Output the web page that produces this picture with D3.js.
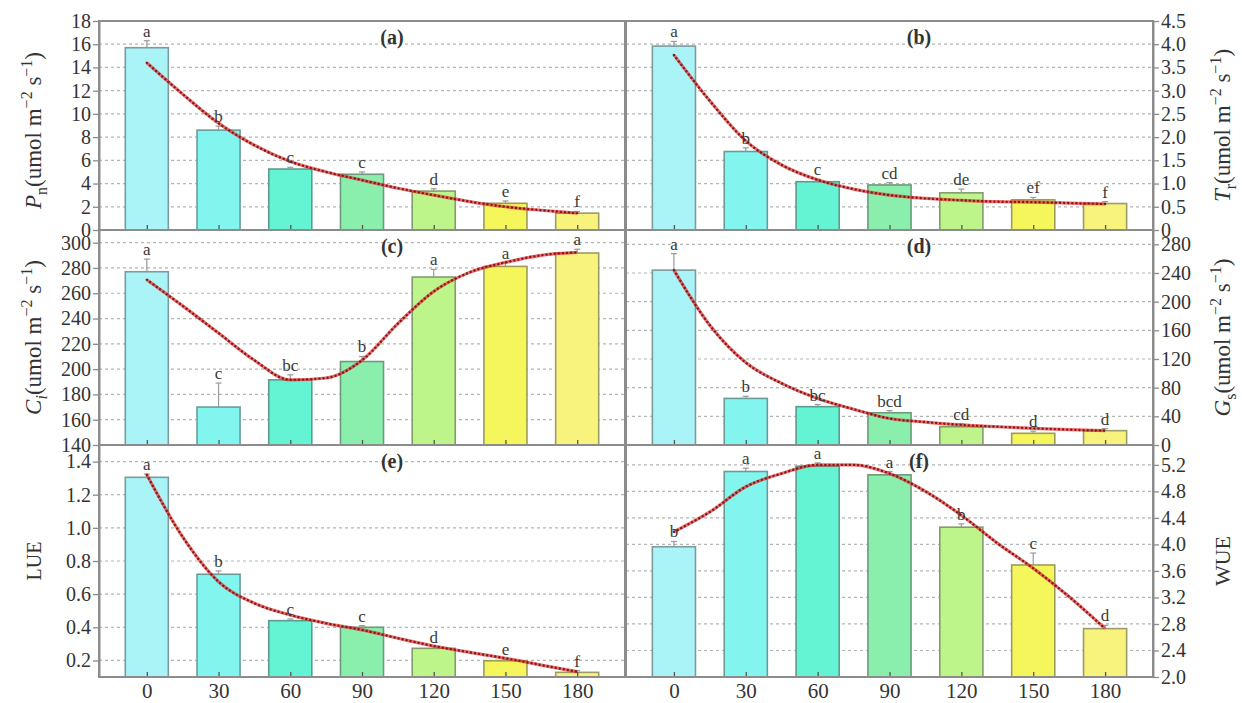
<!DOCTYPE html>
<html><head><meta charset="utf-8">
<script src="https://cdn.jsdelivr.net/npm/d3@7"></script>
<style>
body{margin:0;background:#fff;}
svg{display:block;font-family:"Liberation Serif","Times New Roman",serif;}
</style></head><body>
<svg id="chart" width="1242" height="703"></svg>
<script>
// ---------------- data ----------------
const categories = [0, 30, 60, 90, 120, 150, 180];
const fitX = [0, 15, 30, 45, 60, 75, 90, 105, 120, 135, 150, 165, 180];
const barColors = ["#aaf4f8", "#82f5ee", "#64f4d4", "#8aefad", "#bdf58a", "#f5f55c", "#f7f37c"];

const pnValues  = [15.7, 8.6, 5.25, 4.8, 3.35, 2.3, 1.45];
const pnErrors  = [0.6, 0.35, 0.15, 0.2, 0.2, 0.2, 0.15];
const pnLetters = ["a", "b", "c", "c", "d", "e", "f"];
const pnFit     = [14.4, 11.7, 9.2, 7.3, 5.9, 5.0, 4.3, 3.6, 3.0, 2.45, 2.0, 1.7, 1.45];
const pnTicks   = [0, 2, 4, 6, 8, 10, 12, 14, 16, 18];

const trValues  = [3.96, 1.69, 1.04, 0.97, 0.80, 0.65, 0.57];
const trErrors  = [0.1, 0.08, 0.05, 0.05, 0.08, 0.05, 0.04];
const trLetters = ["a", "b", "c", "cd", "de", "ef", "f"];
const trFit     = [3.77, 2.78, 1.92, 1.4, 1.08, 0.88, 0.75, 0.68, 0.64, 0.61, 0.6, 0.58, 0.56];
const trTicks   = [0, 0.5, 1.0, 1.5, 2.0, 2.5, 3.0, 3.5, 4.0, 4.5];

const ciValues  = [277, 170, 191.5, 206, 272.8, 281.2, 291.8];
const ciErrors  = [10, 19, 4, 4, 6, 3, 3];
const ciLetters = ["a", "c", "bc", "b", "a", "a", "a"];
const ciFit     = [270.7, 250, 228.5, 207, 191.5, 193, 207, 236, 261.4, 276.5, 284.4, 290, 292.3];
const ciTicks   = [140, 160, 180, 200, 220, 240, 260, 280, 300];

const gsValues  = [244, 65, 53.5, 45, 25.5, 16.3, 20];
const gsErrors  = [23, 3, 3, 3, 4, 3, 3];
const gsLetters = ["a", "b", "bc", "bcd", "cd", "d", "d"];
const gsFit     = [244, 167, 115, 86, 65, 50, 37, 32, 28, 25.5, 23.3, 21.4, 20];
const gsTicks   = [0, 40, 80, 120, 160, 200, 240, 280];

const lueValues  = [1.305, 0.72, 0.44, 0.40, 0.273, 0.198, 0.128];
const lueErrors  = [0.02, 0.02, 0.01, 0.01, 0.01, 0.01, 0.01];
const lueLetters = ["a", "b", "c", "c", "d", "e", "f"];
const lueFit     = [1.32, 0.945, 0.675, 0.545, 0.474, 0.424, 0.384, 0.334, 0.287, 0.249, 0.213, 0.172, 0.132];
const lueTicks   = [0.2, 0.4, 0.6, 0.8, 1.0, 1.2, 1.4];

const wueValues  = [3.965, 5.10, 5.18, 5.05, 4.26, 3.69, 2.73];
const wueErrors  = [0.08, 0.05, 0.05, 0.05, 0.05, 0.18, 0.05];
const wueLetters = ["b", "a", "a", "a", "b", "c", "d"];
const wueFit     = [4.19, 4.49, 4.87, 5.07, 5.2, 5.2, 5.07, 4.8, 4.44, 4.02, 3.64, 3.21, 2.73];
const wueTicks   = [2.0, 2.4, 2.8, 3.2, 3.6, 4.0, 4.4, 4.8, 5.2];

const pnTitle  = [{t:"P",i:1},{t:"n",sub:1},{t:"(umol m"},{t:"−2",sup:1},{t:" s"},{t:"−1",sup:1},{t:")"}];
const trTitle  = [{t:"T",i:1},{t:"r",sub:1},{t:"(umol m"},{t:"−2",sup:1},{t:" s"},{t:"−1",sup:1},{t:")"}];
const ciTitle  = [{t:"C",i:1},{t:"i",sub:1,i:1},{t:"(umol m"},{t:"−2",sup:1},{t:" s"},{t:"−1",sup:1},{t:")"}];
const gsTitle  = [{t:"G",i:1},{t:"s",sub:1},{t:"(umol m"},{t:"−2",sup:1},{t:" s"},{t:"−1",sup:1},{t:")"}];
const lueTitle = [{t:"LUE"}];
const wueTitle = [{t:"WUE"}];

// ---------------- layout ----------------
const colX = [[99, 625], [626, 1153]];
const rowY = [[21, 230], [230, 445], [445, 677]];
const fmtInt = d => String(d);
const fmt1 = d => d === 0 ? "0" : d.toFixed(1);

const panels = [
  {label:"(a)", col:0, row:0, values:pnValues,  errors:pnErrors,  letters:pnLetters,  fit:pnFit,  domain:[0,18],     ticks:pnTicks,  fmt:fmtInt, title:pnTitle,  tsize:23},
  {label:"(b)", col:1, row:0, values:trValues,  errors:trErrors,  letters:trLetters,  fit:trFit,  domain:[0,4.5],    ticks:trTicks,  fmt:fmt1,   title:trTitle,  tsize:23},
  {label:"(c)", col:0, row:1, values:ciValues,  errors:ciErrors,  letters:ciLetters,  fit:ciFit,  domain:[140,310],  ticks:ciTicks,  fmt:fmtInt, title:ciTitle,  tsize:23},
  {label:"(d)", col:1, row:1, values:gsValues,  errors:gsErrors,  letters:gsLetters,  fit:gsFit,  domain:[0,300],    ticks:gsTicks,  fmt:fmtInt, title:gsTitle,  tsize:23},
  {label:"(e)", col:0, row:2, values:lueValues, errors:lueErrors, letters:lueLetters, fit:lueFit, domain:[0.1,1.5],  ticks:lueTicks, fmt:fmt1,   title:lueTitle, tsize:20},
  {label:"(f)", col:1, row:2, values:wueValues, errors:wueErrors, letters:wueLetters, fit:wueFit, domain:[2.0,5.5],  ticks:wueTicks, fmt:fmt1,   title:wueTitle, tsize:22}
];

const svg = d3.select("#chart");
const frameColor = "#8c8c8c";

panels.forEach(p => {
  const [x0, x1] = colX[p.col];
  const [y0, y1] = rowY[p.row];
  const x = d3.scaleLinear().domain([-20, 200]).range([x0, x1]);
  const y = d3.scaleLinear().domain(p.domain).range([y1, y0]);
  const g = svg.append("g");

  // gridlines
  g.selectAll("line.grid").data(p.ticks.filter(t => t > p.domain[0] && t < p.domain[1]))
    .join("line").attr("class","grid")
    .attr("x1", x0).attr("x2", x1)
    .attr("y1", d => y(d)).attr("y2", d => y(d))
    .attr("stroke", "#b4b4b4").attr("stroke-width", 1.2).attr("stroke-dasharray", "3,3");

  // bars
  const bw = 18;
  g.selectAll("rect.bar").data(p.values).join("rect").attr("class","bar")
    .attr("x", (d,i) => x(categories[i] - bw/2))
    .attr("width", (d,i) => x(categories[i] + bw/2) - x(categories[i] - bw/2))
    .attr("y", d => y(d))
    .attr("height", d => y1 - y(d))
    .attr("fill", (d,i) => barColors[i])
    .attr("stroke", (d,i) => d3.interpolateRgb(d3.color(barColors[i]).darker(1.1), "#8a8a8a")(0.35))
    .attr("stroke-width", 1.6);

  // error bars
  g.selectAll("line.err").data(p.values).join("line").attr("class","err")
    .attr("x1", (d,i) => x(categories[i])).attr("x2", (d,i) => x(categories[i]))
    .attr("y1", d => y(d)).attr("y2", (d,i) => y(d + p.errors[i]))
    .attr("stroke", "#999").attr("stroke-width", 1.2);
  g.selectAll("line.cap").data(p.values).join("line").attr("class","cap")
    .attr("x1", (d,i) => x(categories[i]) - 3).attr("x2", (d,i) => x(categories[i]) + 3)
    .attr("y1", (d,i) => y(d + p.errors[i])).attr("y2", (d,i) => y(d + p.errors[i]))
    .attr("stroke", "#999").attr("stroke-width", 1.2);

  // inward x ticks
  const xAxis = d3.axisBottom(x).tickValues(categories).tickSizeInner(-5).tickSizeOuter(0)
    .tickPadding(6).tickFormat(p.row === 2 ? (d => d) : "");
  const xg = g.append("g").attr("transform", `translate(0,${y1})`).call(xAxis);
  xg.select(".domain").remove();
  xg.selectAll(".tick line").attr("stroke", "#555").attr("stroke-width", 1.3);
  xg.selectAll(".tick text").attr("font-size", 21).attr("fill", "#333")
    .attr("font-family", '"Liberation Serif",serif');

  // fit curve
  const pts = fitX.map((fx, i) => [fx, p.fit[i]]);
  const line = d3.line().x(d => x(d[0])).y(d => y(d[1])).curve(d3.curveMonotoneX);
  g.append("path").attr("d", line(pts)).attr("fill", "none")
    .attr("stroke", "#ec3030").attr("stroke-width", 3.2).attr("stroke-opacity", 0.7);
  g.append("path").attr("d", line(pts)).attr("fill", "none")
    .attr("stroke", "#7a1e1e").attr("stroke-width", 2.4)
    .attr("stroke-dasharray", "0.1,4").attr("stroke-linecap", "round");

  // significance letters
  g.selectAll("text.sig").data(p.letters).join("text").attr("class","sig")
    .attr("x", (d,i) => x(categories[i]))
    .attr("y", (d,i) => y(p.values[i] + p.errors[i]) - 4)
    .attr("text-anchor", "middle").attr("font-size", 17).attr("fill", "#3a3a3a")
    .text(d => d);

  // frame
  g.append("rect").attr("x", x0).attr("y", y0).attr("width", x1 - x0).attr("height", y1 - y0)
    .attr("fill", "none").attr("stroke", frameColor).attr("stroke-width", 2);

  // y axis
  const yAxis = (p.col === 0 ? d3.axisLeft(y) : d3.axisRight(y))
    .tickValues(p.ticks).tickFormat(p.fmt).tickSizeInner(6).tickSizeOuter(0).tickPadding(2);
  const yg = g.append("g").attr("transform", `translate(${p.col === 0 ? x0 : x1},0)`).call(yAxis);
  yg.select(".domain").attr("stroke", frameColor).attr("stroke-width", 2);
  yg.selectAll(".tick line").attr("stroke", frameColor).attr("stroke-width", 1.3);
  yg.selectAll(".tick text").attr("font-size", 20).attr("fill", "#333")
    .attr("font-family", '"Liberation Serif",serif');

  // panel label
  g.append("text").attr("x", x0 + 293).attr("y", y0 + 23)
    .attr("text-anchor", "middle").attr("font-size", 20).attr("font-weight", "bold")
    .attr("fill", "#333").text(p.label);

  // axis title
  const tx = p.col === 0 ? 41 : 1230;
  const ty = (y0 + y1) / 2 + (p.row === 0 && p.col === 0 ? 5 : 0);
  const t = g.append("text").attr("transform", `translate(${tx},${ty}) rotate(-90)`)
    .attr("text-anchor", "middle").attr("font-size", p.tsize).attr("fill", "#333");
  let cur = 0;
  p.title.forEach(s => {
    const target = s.sub ? 6 : (s.sup ? -9 : 0);
    const ts = t.append("tspan").attr("dy", target - cur).text(s.t);
    if (s.i) ts.attr("font-style", "italic");
    if (s.sub || s.sup) ts.attr("font-size", 16);
    cur = target;
  });
});
</script>
</body></html>
